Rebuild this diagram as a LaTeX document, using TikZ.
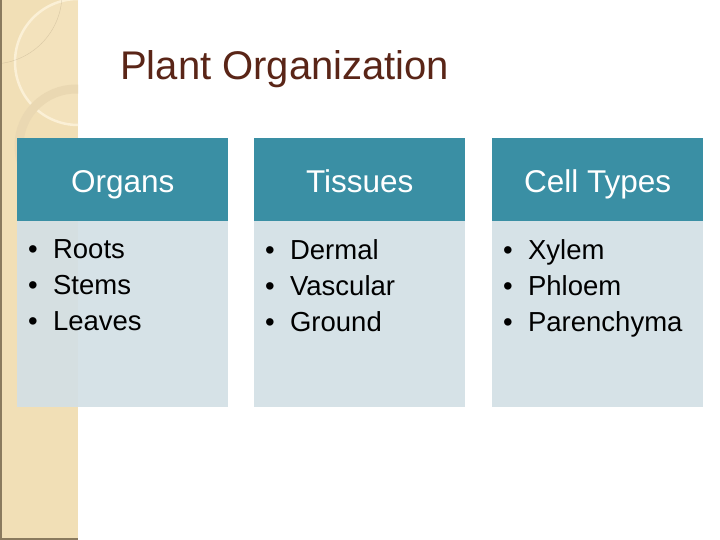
\documentclass[tikz,border=0pt]{standalone}
\usepackage{fontspec}
\setmainfont{Liberation Sans}
\definecolor{beige}{HTML}{F1DFB6}
\definecolor{beigeline}{HTML}{8A7A5E}
\definecolor{ringcol}{HTML}{EAD8B2}
\definecolor{circlecol}{HTML}{FBF0D6}
\definecolor{titlecol}{HTML}{5A2517}
\definecolor{headcol}{HTML}{3A8FA4}
\definecolor{bodycol}{HTML}{D3E0E5}
\tikzset{
  headbox/.style={fill=headcol, minimum width=211pt, minimum height=83pt, inner sep=0pt,
    text height=25pt, text depth=0pt,
    text=white, font=\fontsize{31.5}{34}\selectfont, anchor=north west},
  bodybox/.style={fill=bodycol, fill opacity=0.92, minimum width=211pt, minimum height=186pt, inner sep=0pt, anchor=north west},
  bullets/.style={anchor=north west, align=left, inner sep=0pt, font=\fontsize{27.5}{36}\selectfont, text=black}
}
\begin{document}
\begin{tikzpicture}[x=1pt,y=-1pt]
\useasboundingbox (0,0) rectangle (720,540);
\fill[white] (0,0) rectangle (720,540);
% left decorative strip
\fill[beige] (0,0) rectangle (78,540);
\begin{scope}
  \clip (0,0) rectangle (78,540);
  \fill[circlecol, opacity=0.2] (78,62) circle (63);
  \draw[circlecol, line width=2.5pt] (78,62) circle (63);
  \draw[beigeline, line width=0.4pt, opacity=0.25] (-8,-6) circle (70);
  \draw[ringcol, line width=9pt] (76,146) circle (57);
\end{scope}
\fill[beigeline] (0,0) rectangle (2,540);
\fill[beigeline] (0,538) rectangle (78,540);
% title
\node[anchor=west, text=titlecol, font=\fontsize{40}{44}\selectfont, inner sep=0pt] (title) at (120,69) {Plant Organization};
% columns
\node[bodybox] (b1) at (17,221) {};
\node[bodybox] (b2) at (254,221) {};
\node[bodybox] (b3) at (492,221) {};
\node[headbox] (h1) at (17,138) {Organs};
\node[headbox] (h2) at (254,138) {Tissues};
\node[headbox] (h3) at (492,138) {Cell Types};
\node[bullets] (l1) at (28,239) {\textbullet\ \ Roots\\\textbullet\ \ Stems\\\textbullet\ \ Leaves};
\node[bullets] (l2) at (265,239) {\textbullet\ \ Dermal\\\textbullet\ \ Vascular\\\textbullet\ \ Ground};
\node[bullets] (l3) at (503,239) {\textbullet\ \ Xylem\\\textbullet\ \ Phloem\\\textbullet\ \ Parenchyma};
\end{tikzpicture}
\end{document}
